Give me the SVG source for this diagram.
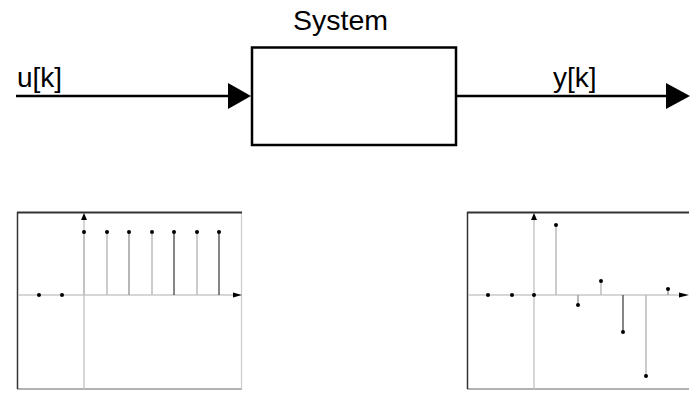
<svg xmlns="http://www.w3.org/2000/svg" width="696" height="400" viewBox="0 0 696 400">
<style>
text{font-family:"Liberation Sans",Arial,sans-serif;fill:#000}
.lbl{font-size:28px}
.wire{stroke:#000;stroke-width:2.5;fill:none}
.ax{stroke:#c8c8c8;stroke-width:1.5}
.st{stroke:#bbb;stroke-width:1.5}
.sd{stroke:#444;stroke-width:1.3}
.sm{stroke:#999;stroke-width:1.4}
.dot{fill:#000}
</style>
<rect width="696" height="400" fill="#fff"/>
<g id="connectors">
<line class="wire" x1="16" y1="96" x2="230" y2="96"/>
<polygon points="228,83 251,96 228,109" fill="#000"/>
<line class="wire" x1="456" y1="96" x2="668" y2="96"/>
<polygon points="666,83 690,96 666,109" fill="#000"/>
<text class="lbl" x="17" y="87">u[k]</text>
<text class="lbl" x="553" y="87">y[k]</text>
</g>
<g id="system">
<rect x="252" y="47.5" width="204" height="97.5" fill="#fff" stroke="#000" stroke-width="2.5"/>
<text class="lbl" x="293" y="30" style="font-size:28.5px">System</text>
</g>
<g id="input-plot">
<line x1="17" y1="389" x2="242" y2="389" stroke="#999" stroke-width="1.5"/>
<line x1="241.5" y1="212" x2="241.5" y2="389" stroke="#ccc" stroke-width="1.2"/>
<line x1="17.5" y1="212" x2="17.5" y2="389" stroke="#333" stroke-width="1.5"/>
<line x1="17" y1="212.5" x2="242" y2="212.5" stroke="#333" stroke-width="2"/>
<line class="ax" x1="18" y1="295" x2="236" y2="295"/>
<line class="ax" x1="84" y1="219" x2="84" y2="389"/>
<polygon points="81,220 84,213 87,220" fill="#000"/>
<polygon points="233,292.5 242,295 233,297.5" fill="#000"/>
<line class="st" x1="84" y1="232" x2="84" y2="295"/>
<line class="st" x1="107" y1="232" x2="107" y2="295"/>
<line class="sm" x1="129" y1="232" x2="129" y2="295"/>
<line class="st" x1="152" y1="232" x2="152" y2="295"/>
<line class="sd" x1="174" y1="232" x2="174" y2="295"/>
<line class="st" x1="197" y1="232" x2="197" y2="295"/>
<line class="sd" x1="219" y1="232" x2="219" y2="295"/>
<circle class="dot" cx="39" cy="295" r="2"/>
<circle class="dot" cx="62" cy="295" r="2"/>
<circle class="dot" cx="84" cy="232" r="2"/>
<circle class="dot" cx="107" cy="232" r="2"/>
<circle class="dot" cx="129" cy="232" r="2"/>
<circle class="dot" cx="152" cy="232" r="2"/>
<circle class="dot" cx="174" cy="232" r="2"/>
<circle class="dot" cx="197" cy="232" r="2"/>
<circle class="dot" cx="219" cy="232" r="2"/>
</g>
<g id="output-plot">
<line x1="467" y1="389" x2="689" y2="389" stroke="#999" stroke-width="1.5"/>
<line x1="467.5" y1="212" x2="467.5" y2="389" stroke="#333" stroke-width="1.5"/>
<line x1="467" y1="212.5" x2="689" y2="212.5" stroke="#333" stroke-width="2"/>
<line class="ax" x1="468" y1="295" x2="682" y2="295"/>
<line class="ax" x1="534" y1="219" x2="534" y2="389"/>
<polygon points="531,220 534,213 537,220" fill="#000"/>
<polygon points="679,292.5 689,295 679,297.5" fill="#000"/>
<line class="st" x1="556" y1="225" x2="556" y2="295"/>
<line class="sm" x1="578" y1="295" x2="578" y2="305"/>
<line class="st" x1="601" y1="281" x2="601" y2="295"/>
<line class="sd" x1="623" y1="295" x2="623" y2="332"/>
<line class="st" x1="646" y1="295" x2="646" y2="376"/>
<line class="sm" x1="668" y1="289" x2="668" y2="295"/>
<circle class="dot" cx="488" cy="295" r="2"/>
<circle class="dot" cx="512" cy="295" r="2"/>
<circle class="dot" cx="534" cy="295" r="2"/>
<circle class="dot" cx="556" cy="225" r="2"/>
<circle class="dot" cx="578" cy="305" r="2"/>
<circle class="dot" cx="601" cy="281" r="2"/>
<circle class="dot" cx="623" cy="332" r="2"/>
<circle class="dot" cx="646" cy="376" r="2"/>
<circle class="dot" cx="668" cy="289" r="2"/>
</g>
</svg>
